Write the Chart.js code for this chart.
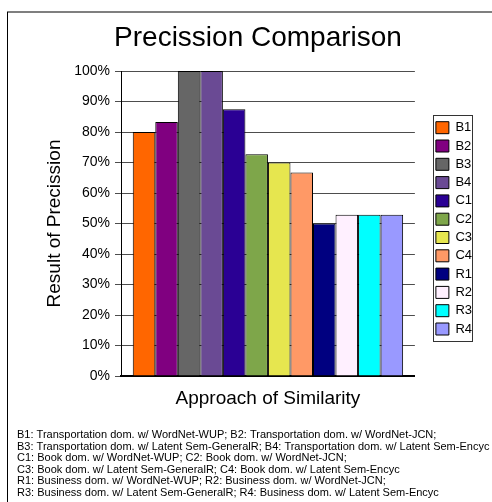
<!DOCTYPE html>
<html><head><meta charset="utf-8">
<script src="https://cdn.jsdelivr.net/npm/chart.js@4/dist/chart.umd.min.js"></script>
<style>html,body{margin:0;padding:0;background:#fff;}canvas{display:block;}</style>
</head><body>
<canvas id="c" width="492" height="502"></canvas>
<script>
const categories = [''];
const seriesNames = ['B1','B2','B3','B4','C1','C2','C3','C4','R1','R2','R3','R4'];
const seriesValues = [0.80, 0.833, 1.00, 1.00, 0.875, 0.727, 0.70, 0.667, 0.50, 0.529, 0.529, 0.529];
const seriesColors = ['#FF6600','#800080','#666666','#6A4A94','#2A0094','#7EA64A','#E6E64F','#FF9966','#000080','#FFF0FF','#00FFFF','#9999FF'];
const yTickLabels = ['0%','10%','20%','30%','40%','50%','60%','70%','80%','90%','100%'];
const chartTitle = 'Precission Comparison';
const yTitle = 'Result of Precission';
const xTitle = 'Approach of Similarity';
const footnoteLines = [
  'B1: Transportation dom. w/ WordNet-WUP; B2: Transportation dom. w/ WordNet-JCN;',
  'B3: Transportation dom. w/ Latent Sem-GeneralR; B4: Transportation dom. w/ Latent Sem-Encyc',
  'C1: Book dom. w/ WordNet-WUP; C2: Book dom. w/ WordNet-JCN;',
  'C3: Book dom. w/ Latent Sem-GeneralR; C4: Book dom. w/ Latent Sem-Encyc',
  'R1: Business dom. w/ WordNet-WUP; R2: Business dom. w/ WordNet-JCN;',
  'R3: Business dom. w/ Latent Sem-GeneralR; R4: Business dom. w/ Latent Sem-Encyc'
];

const FONT = "'Liberation Sans', Arial, Helvetica, sans-serif";
Chart.defaults.font.family = FONT;
Chart.defaults.color = '#000';

const decor = {
  id: 'decor',
  beforeDraw(chart) {
    const ctx = chart.ctx;
    ctx.save();
    ctx.fillStyle = '#fff';
    ctx.fillRect(0, 0, chart.width, chart.height);
    ctx.restore();
  },
  afterDraw(chart) {
    const ctx = chart.ctx;
    ctx.save();
    // outer frame
    ctx.strokeStyle = '#7f7f7f';
    ctx.lineWidth = 2;
    ctx.beginPath(); ctx.moveTo(7, 12); ctx.lineTo(492, 12); ctx.stroke();
    ctx.strokeStyle = '#000';
    ctx.lineWidth = 1;
    ctx.beginPath(); ctx.moveTo(7.5, 12); ctx.lineTo(7.5, 502); ctx.stroke();
    // legend frame
    const hb = chart.legend && chart.legend.legendHitBoxes;
    if (hb && hb.length) {
      const l = Math.round(hb[0].left - 3) + 0.5;
      const t = Math.round(hb[0].top - 6) + 0.5;
      const b = Math.round(hb[hb.length - 1].top + 18) + 0.5;
      ctx.strokeStyle = '#333';
      ctx.lineWidth = 1;
      ctx.strokeRect(l, t, 39, b - t);
    }
    // footnote
    ctx.fillStyle = '#000';
    ctx.font = '11px ' + FONT;
    ctx.textBaseline = 'alphabetic';
    ctx.textAlign = 'left';
    footnoteLines.forEach((s, i) => ctx.fillText(s, 17, 438 + i * 11.6));
    ctx.restore();
  }
};

new Chart(document.getElementById('c'), {
  type: 'bar',
  data: {
    labels: categories,
    datasets: seriesNames.map((n, i) => ({
      label: n,
      data: [seriesValues[i]],
      backgroundColor: seriesColors[i],
      borderColor: '#000',
      borderWidth: 1,
      yAxisID: 'y',
      xAxisID: 'x'
    }))
  },
  options: {
    responsive: false,
    animation: false,
    devicePixelRatio: 1,
    datasets: { bar: { categoryPercentage: 0.92, barPercentage: 1 } },
    layout: { padding: { left: 34, right: 10, top: 0, bottom: 92.3 } },
    plugins: {
      tooltip: { enabled: false },
      title: {
        display: true, text: chartTitle, color: '#000',
        font: { size: 28, weight: 'normal' },
        padding: { top: 21.2, bottom: 16.2 }
      },
      legend: {
        display: true, position: 'right', align: 'start', fullSize: false,
        title: { display: true, text: '', font: { size: 10 }, padding: { top: 32.9, bottom: 0 } },
        labels: { boxWidth: 13, boxHeight: 12, padding: 5.3, color: '#000', font: { size: 13 } }
      }
    },
    scales: {
      x: {
        type: 'category',
        grid: { display: false, drawTicks: false },
        border: { display: true, color: '#000', width: 2 },
        ticks: { display: false },
        title: { display: true, text: xTitle, color: '#000', font: { size: 19 }, padding: { top: 0, bottom: 0 } },
        afterFit: s => { s.height = 33.7; }
      },
      y: {
        type: 'linear', position: 'left', min: 0, max: 1,
        grid: { color: '#4d4d4d', lineWidth: 1, tickLength: 6, drawTicks: true },
        border: { display: true, color: '#000', width: 1 },
        ticks: { stepSize: 0.1, padding: 5, color: '#000', font: { size: 14 },
          callback: (v, i) => yTickLabels[i] },
        title: { display: true, text: yTitle, color: '#000', font: { size: 19 }, padding: { top: 9.6, bottom: 0 } },
        afterFit: s => { s.width = 87; }
      },
      gap: {
        type: 'linear', position: 'right', display: true,
        grid: { display: false, drawTicks: false },
        border: { display: false },
        ticks: { display: false },
        afterFit: s => { s.width = 15.7; }
      }
    }
  },
  plugins: [decor]
});
</script>
</body></html>
